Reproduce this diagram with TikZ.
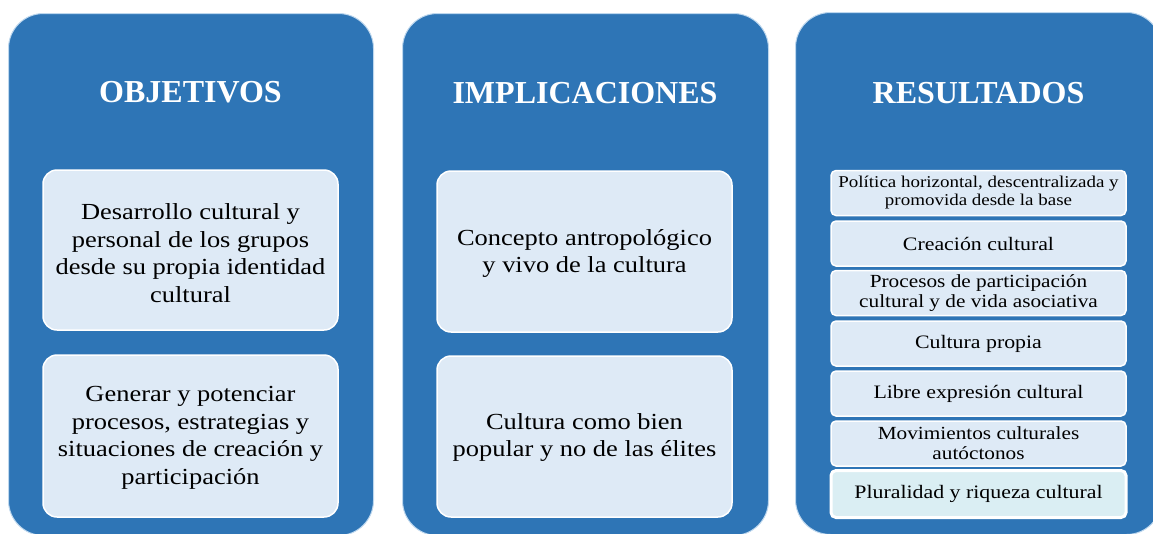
\documentclass[tikz,border=0pt]{standalone}
\usepackage{fontspec}
\setmainfont{Liberation Serif}
\newfontfamily\bodyfont[FakeStretch=1.15]{Liberation Serif}
\definecolor{cBlue}{HTML}{2E75B6}
\definecolor{cEdge}{HTML}{BDD7EE}
\definecolor{cLight}{HTML}{DEEAF6}
\definecolor{cLast}{HTML}{DAEEF3}
\tikzset{
  bigbox/.style={fill=cBlue, draw=cEdge, line width=1pt, rounded corners=35pt, anchor=north west, inner sep=0pt},
  coltitle/.style={text=white, font=\fontsize{32}{38}\selectfont\bfseries, anchor=base, inner sep=0pt},
  card/.style={fill=cLight, draw=white, line width=1.5pt, rounded corners=14pt, inner sep=0pt,
    minimum width=295pt},
  cardtext/.style={align=center, inner sep=0pt, font=\bodyfont\fontsize{23}{27.5}\selectfont},
  item/.style={fill=cLight, draw=white, line width=1.5pt, rounded corners=5pt, align=center, inner sep=0pt,
    minimum width=295pt, minimum height=45pt, font=\bodyfont\fontsize{19}{20}\selectfont},
}
\begin{document}
\begin{tikzpicture}[x=1pt,y=-1pt]
\useasboundingbox (0,0) rectangle (1153,533);
\clip (0,0) rectangle (1153,533);
% column frames
\node[bigbox, minimum width=365pt, minimum height=522pt] (obj) at (8,13) {};
\node[bigbox, minimum width=366pt, minimum height=522pt] (imp) at (402,13) {};
\node[bigbox, minimum width=366pt, minimum height=522pt] (res) at (795,12) {};
% titles
\node[coltitle] (tobj) at (190.5,102) {OBJETIVOS};
\node[coltitle] (timp) at (585,103) {IMPLICACIONES};
\node[coltitle] (tres) at (978.5,103) {RESULTADOS};
% objetivos
\node[card, minimum height=160pt] (o1) at (190.5,250) {};
\node[cardtext] (o1t) at ([yshift=-3pt]o1.center) {Desarrollo cultural y\\personal de los grupos\\desde su propia identidad\\cultural};
\node[card, minimum height=162pt] (o2) at (190.5,436) {};
\node[cardtext] (o2t) at ([yshift=-2pt]o2.center) {Generar y potenciar\\procesos, estrategias y\\situaciones de creación y\\participación};
% implicaciones
\node[card, minimum height=161pt] (i1) at (584.5,251.5) {};
\node[cardtext] (i1t) at ([yshift=-2pt]i1.center) {Concepto antropológico\\y vivo de la cultura};
\node[card, minimum height=161pt] (i2) at (584.5,436.5) {};
\node[cardtext] (i2t) at ([yshift=-1pt]i2.center) {Cultura como bien\\popular y no de las élites};
% resultados
\node[item, font=\bodyfont\fontsize{16.5}{18}\selectfont] (r1) at (978.5,193) {Política horizontal, descentralizada y\\promovida desde la base};
\node[item] (r2) at (978.5,243.5) {Creación cultural};
\node[item, font=\bodyfont\fontsize{18.5}{20}\selectfont] (r3) at (978.5,293) {Procesos de participación\\cultural y de vida asociativa};
\node[item] (r4) at (978.5,343.5) {Cultura propia};
\node[item] (r5) at (978.5,393.5) {Libre expresión cultural};
\node[item, font=\bodyfont\fontsize{18.5}{20}\selectfont] (r6) at (978.5,443.5) {Movimientos culturales\\autóctonos};
\node[item, fill=cLast, line width=3pt, minimum height=47pt] (r7) at (978.5,494) {Pluralidad y riqueza cultural};
\end{tikzpicture}
\end{document}
